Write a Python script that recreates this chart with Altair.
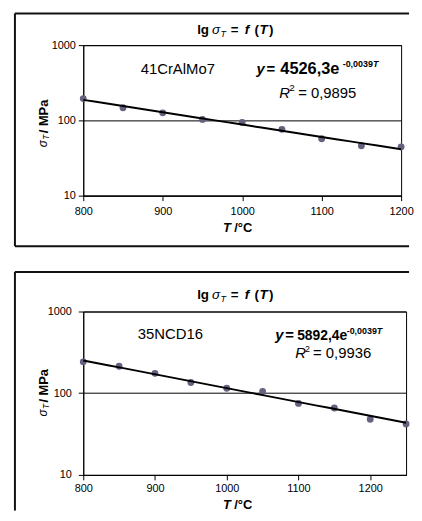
import altair as alt
import pandas as pd

FONT = "Liberation Sans"

# ---- data ----
T1 = [800, 850, 900, 950, 1000, 1050, 1100, 1150, 1200]
S1 = [195, 147, 126, 103, 94, 76, 57, 46, 44.5]
T2 = [800, 850, 900, 950, 1000, 1050, 1100, 1150, 1200, 1250]
S2 = [242, 214, 175, 135, 115, 105, 75, 66, 48, 42]
XTICKS = [800, 900, 1000, 1100, 1200]
YTICKS = [10, 100, 1000]
LABEL1 = "41CrAlMo7"
LABEL2 = "35NCD16"
COEF1 = "4526,3e"
COEF2 = "5892,4e"
EXPO = "-0,0039"
R2_1 = "= 0,9895"
R2_2 = "= 0,9936"

ONE = pd.DataFrame({"k": [0]})


def txt(s, x, y, size, weight="normal", style="normal", align="left", angle=0):
    kw = dict(align=align, baseline="alphabetic", font=FONT, fontSize=size,
              fontWeight=weight, fontStyle=style, color="black")
    if angle:
        kw["angle"] = angle
    return alt.Chart(ONE).mark_text(**kw).encode(
        x=alt.value(x), y=alt.value(y), text=alt.value(s))


def rule(x1, x2, y1, y2, w=2):
    return alt.Chart(ONE).mark_rule(color="#111", strokeWidth=w).encode(
        x=alt.value(x1), x2=alt.value(x2), y=alt.value(y1), y2=alt.value(y2))


def panel(T, S, xmax, w, h, ox, oy, frame, texts, lpadx, lpady):
    df = pd.DataFrame({"T": T, "S": S})
    xs = alt.Scale(domain=[800, xmax], nice=False, zero=False)
    ys = alt.Scale(type="log", domain=[10, 1000], nice=False)
    xax = alt.Axis(values=XTICKS, format="d", title=None, grid=False,
                   labelPadding=lpadx, labelFlush=False)
    yax = alt.Axis(values=YTICKS, format="d", title=None, grid=True,
                   labelPadding=lpady)
    base = alt.Chart(df)
    pts = base.mark_circle(size=48, color="#66617f", opacity=1).encode(
        x=alt.X("T:Q", scale=xs, axis=xax),
        y=alt.Y("S:Q", scale=ys, axis=yax))
    fit = base.transform_regression("T", "S", method="exp", extent=[800, xmax]).mark_line(
        color="black", strokeWidth=2).encode(x="T:Q", y="S:Q")
    layers = [pts, fit]
    fl, ft, fb, fr, draw_bottom = frame
    layers.append(rule(fl - ox, fr - ox, ft - oy, ft - oy))
    layers.append(rule(fl - ox, fl - ox, ft - oy, fb - oy))
    if draw_bottom:
        layers.append(rule(fl - ox, fr - ox, fb - oy, fb - oy))
    for (s, x, y, size, weight, style, angle) in texts:
        layers.append(txt(s, x - ox, y - oy, size, weight, style, angle=angle))
    return alt.layer(*layers).properties(width=w, height=h)


def common_texts(dy, ytitle_y):
    b = 29 + dy
    t = [
        ("lg", 198, b, 13.5, "bold", "normal", 0),
        ("σ", 213, b, 13.5, "normal", "italic", 0),
        ("T", 221.5, b + 3, 9, "normal", "italic", 0),
        ("=", 232, b, 13.5, "bold", "normal", 0),
        ("f", 246, b, 13.5, "bold", "italic", 0),
        ("(", 256, b, 13.5, "bold", "normal", 0),
        ("T", 261, b, 13.5, "bold", "italic", 0),
        (")", 270.5, b, 13.5, "bold", "normal", 0),
    ]
    y0 = ytitle_y
    t += [
        ("σ", 46, y0, 12, "normal", "italic", 270),
        ("T", 48.5, y0 - 7.5, 8.5, "normal", "italic", 270),
        ("/ MPa", 47, y0 - 14, 13, "bold", "normal", 270),
    ]
    return t


top_texts = common_texts(0, 143) + [
    ("T", 224, 229, 13, "bold", "italic", 0),
    ("/°C", 235.5, 229, 13, "bold", "normal", 0),
    (LABEL1, 141, 69.5, 15, "normal", "normal", 0),
    ("y", 258, 69, 15, "bold", "italic", 0),
    ("=", 268, 69, 15, "bold", "normal", 0),
    (COEF1, 282, 69, 16.5, "bold", "normal", 0),
    (EXPO, 345, 62, 9, "bold", "normal", 0),
    ("T", 375.5, 62, 9, "bold", "italic", 0),
    ("R", 281, 93, 15, "normal", "italic", 0),
    ("2", 291, 86, 10, "normal", "normal", 0),
    (R2_1, 300, 93, 15, "normal", "normal", 0),
]

bot_texts = common_texts(265, 413) + [
    ("T", 224, 506, 13, "bold", "italic", 0),
    ("/°C", 235.5, 506, 13, "bold", "normal", 0),
    (LABEL2, 138, 335, 15, "normal", "normal", 0),
    ("y", 277, 336, 15, "bold", "italic", 0),
    ("=", 287, 336, 15, "bold", "normal", 0),
    (COEF2, 299, 336, 14, "bold", "normal", 0),
    (EXPO, 349, 330, 9, "bold", "normal", 0),
    ("T", 379.5, 330, 9, "bold", "italic", 0),
    ("R", 297, 354, 15, "normal", "italic", 0),
    ("2", 307, 348, 9, "normal", "normal", 0),
    (R2_2, 315, 354, 15, "normal", "normal", 0),
]

top = panel(T1, S1, 1200, 321, 152, 83, 40, (14, 8, 243, 412, True), top_texts, 5, 3)
bot = panel(T2, S2, 1250, 326, 165, 83, 307, (14, 267, 508, 412, False), bot_texts, 3, 7)

chart = alt.vconcat(top, bot, spacing=22).properties(
    padding={"left": 5, "top": 1, "right": 0, "bottom": 0}
).configure_view(stroke="black", strokeWidth=1).configure_axis(
    domainColor="black", domainWidth=1, tickColor="black", tickSize=5,
    labelColor="black", labelFont=FONT, labelFontSize=11,
    gridColor="black", gridOpacity=1, gridWidth=1
)

chart.save("out.html", embed_options={"renderer": "svg", "actions": False})
